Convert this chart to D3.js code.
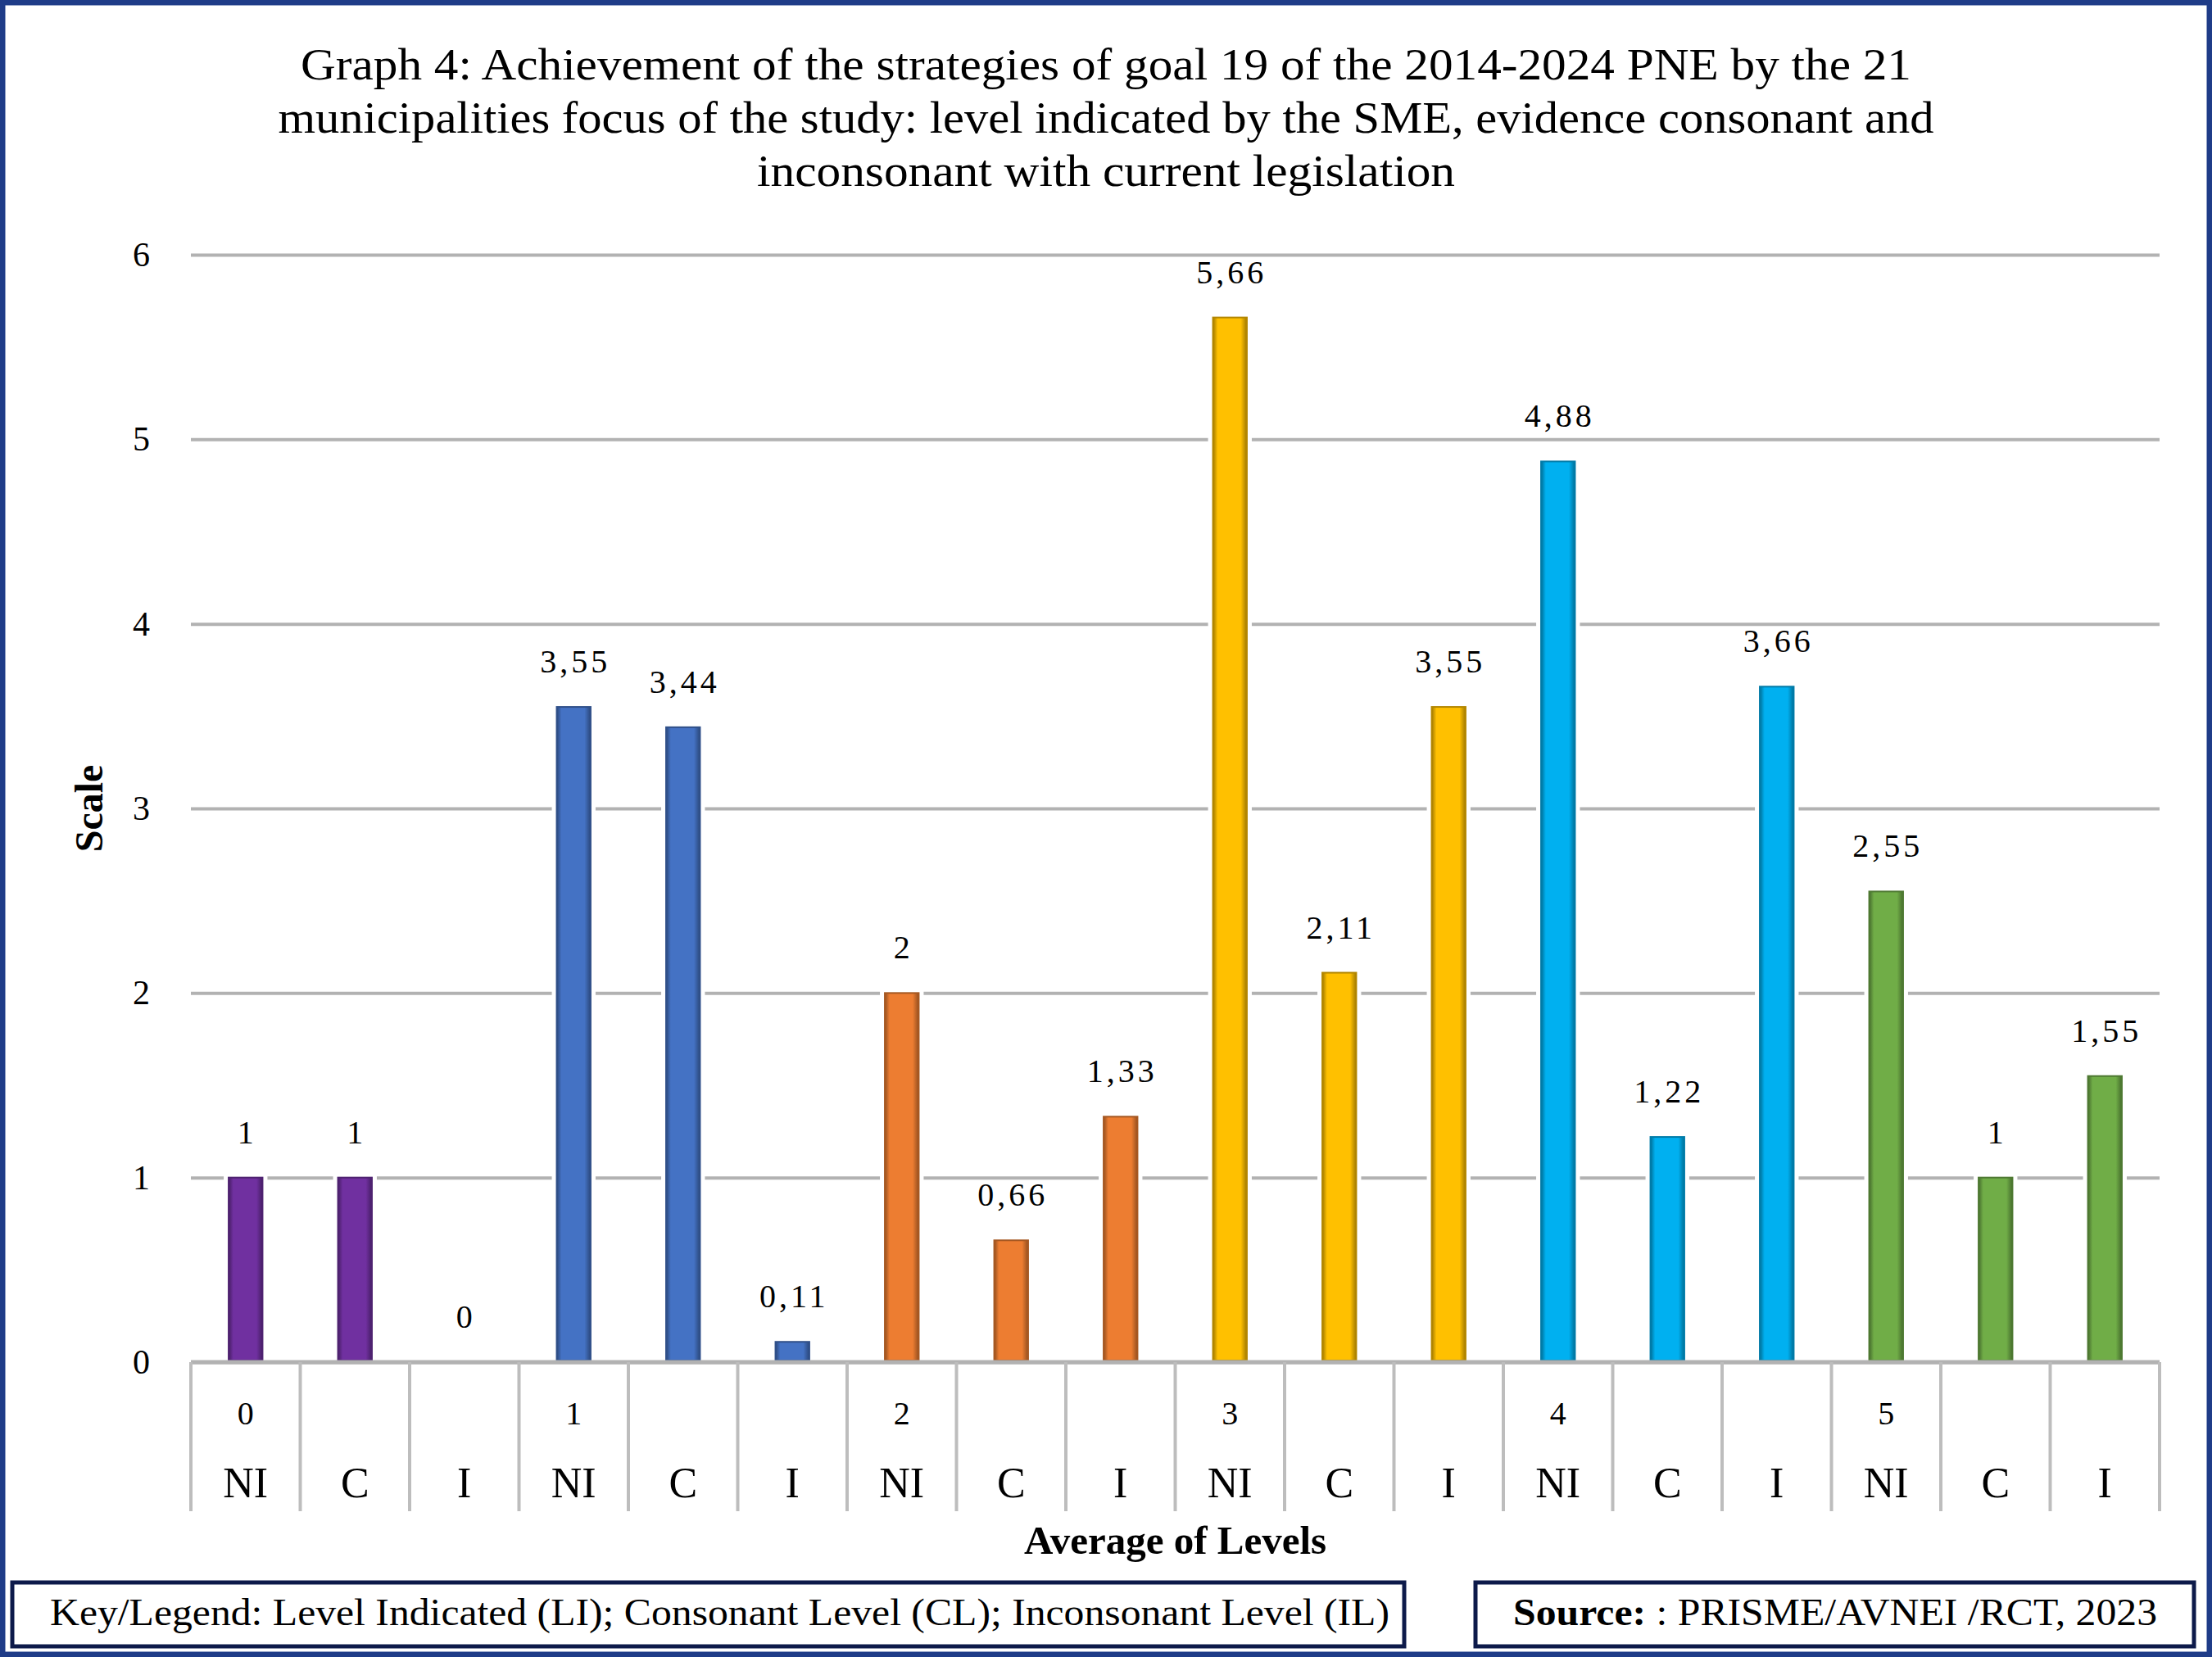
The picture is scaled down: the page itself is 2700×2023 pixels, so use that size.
<!DOCTYPE html>
<html>
<head>
<meta charset="utf-8">
<script src="https://cdn.jsdelivr.net/npm/d3@7"></script>
<style>
    body { margin: 0; background: #fff; }
    text { font-family: "Liberation Serif", "DejaVu Serif", serif; fill: #000; }
</style>
</head>
<body>
<div id="chart"></div>
<script>
// Data
const groups = ["0", "1", "2", "3", "4", "5"];
const levels = ["NI", "C", "I"];
const values = [
    1, 1, 0,
    3.55, 3.44, 0.11,
    2, 0.66, 1.33,
    5.66, 2.11, 3.55,
    4.88, 1.22, 3.66,
    2.55, 1, 1.55
];
const yTicks = [0, 1, 2, 3, 4, 5, 6];

const titleLines = [
    "Graph 4: Achievement of the strategies of goal 19 of the 2014-2024 PNE by the 21",
    "municipalities focus of the study: level indicated by the SME, evidence consonant and",
    "inconsonant with current legislation"
];
// widths measured on the original, the font there is wider than Times
const titleWidths = [1966, 2021, 852];

// one colour per group
const palette = ["#7030A0", "#4472C4", "#ED7D31", "#FFC000", "#00B0F0", "#70AD47"];

const rows = values.map((v, i) => ({
    key: groups[Math.floor(i / 3)] + "-" + levels[i % 3],
    group: Math.floor(i / 3),
    level: levels[i % 3],
    value: v
}));

const width = 2700, height = 2023;
const margin = { top: 311, right: 64, bottom: 360, left: 233 };
const innerWidth = width - margin.left - margin.right;
const innerHeight = height - margin.top - margin.bottom;

const svg = d3.select('#chart')
    .append('svg')
    .attr('width', width)
    .attr('height', height);

// gradients to fake the bevelled bars
const defs = svg.append('defs');
palette.forEach((c, i) => {
    const dark = d3.color(c).darker(1.3);
    const g = defs.append('linearGradient').attr('id', 'grad' + i);
    g.append('stop').attr('offset', '0%').attr('stop-color', dark);
    g.append('stop').attr('offset', '14%').attr('stop-color', c);
    g.append('stop').attr('offset', '82%').attr('stop-color', c);
    g.append('stop').attr('offset', '100%').attr('stop-color', dark);
});

// outer frame
svg.append('rect')
    .attr('x', 3).attr('y', 3)
    .attr('width', width - 6).attr('height', height - 6)
    .attr('fill', 'none')
    .attr('stroke', '#1f3c88')
    .attr('stroke-width', 7);

// title
svg.append('g').selectAll('text')
    .data(titleLines)
    .join('text')
    .attr('x', width / 2)
    .attr('y', (d, i) => 97 + i * 65)
    .attr('text-anchor', 'middle')
    .attr('font-size', '55px')
    .attr('textLength', (d, i) => titleWidths[i])
    .attr('lengthAdjust', 'spacingAndGlyphs')
    .text(d => d);

const plot = svg.append('g')
    .attr('transform', `translate(${margin.left},${margin.top})`);

const x = d3.scaleBand()
    .domain(rows.map(d => d.key))
    .range([0, innerWidth]);

const y = d3.scaleLinear()
    .domain([0, 6])
    .range([innerHeight, 0]);

// gridlines + y labels
const yAxis = plot.append('g')
    .call(d3.axisLeft(y).tickValues(yTicks).tickFormat(d3.format('d'))
        .tickSize(-innerWidth).tickPadding(50));
yAxis.select('.domain').remove();
yAxis.selectAll('.tick line')
    .attr('stroke', '#b2b2b2')
    .attr('stroke-width', 4);
yAxis.selectAll('.tick text')
    .attr('font-family', '"Liberation Serif", serif')
    .attr('font-size', '42px')
    .attr('fill', '#000');

// bars
const barW = x.bandwidth() * 0.31;
const bars = plot.append('g').selectAll('g')
    .data(rows)
    .join('g')
    .attr('transform', d => `translate(${x(d.key) + x.bandwidth() / 2},0)`);

bars.filter(d => d.value > 0).append('rect')
    .attr('x', -barW / 2 - 6)
    .attr('width', barW + 12)
    .attr('y', d => y(d.value) - 4)
    .attr('height', d => y(0) - y(d.value) + 1)
    .attr('fill', '#fff');

bars.filter(d => d.value > 0).append('rect')
    .attr('x', -barW / 2)
    .attr('width', barW)
    .attr('y', d => y(d.value))
    .attr('height', d => y(0) - y(d.value) - 2)
    .attr('fill', d => `url(#grad${d.group})`)
    .attr('stroke', d => d3.color(palette[d.group]).darker(1))
    .attr('stroke-width', 2);

// value labels
bars.append('text')
    .attr('x', 2)
    .attr('y', d => y(d.value) - 42)
    .attr('text-anchor', 'middle')
    .attr('font-family', '"DejaVu Serif", serif')
    .attr('font-size', '40px')
    .attr('letter-spacing', '4px')
    .text(d => String(d.value).replace('.', ','));

// category axis: baseline + separators
const xAxisG = plot.append('g').attr('transform', `translate(0,${innerHeight})`);
xAxisG.append('line')
    .attr('x1', 0).attr('x2', innerWidth)
    .attr('stroke', '#b2b2b2')
    .attr('stroke-width', 5);

const seps = d3.range(rows.length + 1).map(i => i === rows.length ? innerWidth : x(rows[i].key));
xAxisG.selectAll('line.sep')
    .data(seps)
    .join('line')
    .attr('class', 'sep')
    .attr('x1', d => d).attr('x2', d => d)
    .attr('y1', 0).attr('y2', 182)
    .attr('stroke', '#bdbdbd')
    .attr('stroke-width', 4);

// group labels sit under the first column of each group
xAxisG.selectAll('text.grp')
    .data(rows.filter(d => d.level === "NI"))
    .join('text')
    .attr('class', 'grp')
    .attr('x', d => x(d.key) + x.bandwidth() / 2)
    .attr('y', 76)
    .attr('text-anchor', 'middle')
    .attr('font-size', '40px')
    .text(d => groups[d.group]);

xAxisG.selectAll('text.lvl')
    .data(rows)
    .join('text')
    .attr('class', 'lvl')
    .attr('x', d => x(d.key) + x.bandwidth() / 2)
    .attr('y', 165)
    .attr('text-anchor', 'middle')
    .attr('font-size', '52px')
    .text(d => d.level);

// axis titles
svg.append('text')
    .attr('x', margin.left + innerWidth / 2)
    .attr('y', 1897)
    .attr('text-anchor', 'middle')
    .attr('font-size', '49px')
    .attr('font-weight', 'bold')
    .text('Average of Levels');

svg.append('text')
    .attr('transform', `translate(125,${margin.top + innerHeight / 2}) rotate(-90)`)
    .attr('text-anchor', 'middle')
    .attr('font-size', '48px')
    .attr('font-weight', 'bold')
    .text('Scale');

// key and source boxes
svg.append('rect')
    .attr('x', 15).attr('y', 1932)
    .attr('width', 1699).attr('height', 78)
    .attr('fill', 'none')
    .attr('stroke', '#0d1a4a')
    .attr('stroke-width', 5);
svg.append('text')
    .attr('x', 61).attr('y', 1984)
    .attr('font-size', '46px')
    .attr('textLength', 1635)
    .attr('lengthAdjust', 'spacingAndGlyphs')
    .text('Key/Legend: Level Indicated (LI); Consonant Level (CL); Inconsonant Level (IL)');

svg.append('rect')
    .attr('x', 1801).attr('y', 1932)
    .attr('width', 877).attr('height', 78)
    .attr('fill', 'none')
    .attr('stroke', '#0d1a4a')
    .attr('stroke-width', 5);
const src = svg.append('text')
    .attr('x', 1847).attr('y', 1984)
    .attr('font-size', '46px')
    .attr('textLength', 786)
    .attr('lengthAdjust', 'spacingAndGlyphs');
src.append('tspan').attr('font-weight', 'bold').text('Source:');
src.append('tspan').text(' : PRISME/AVNEI /RCT, 2023');
</script>
</body>
</html>
